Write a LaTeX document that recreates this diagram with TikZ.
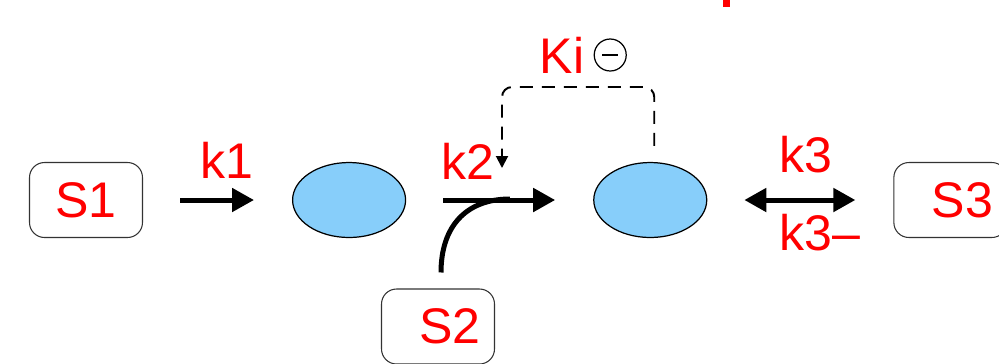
\documentclass[tikz,border=0pt]{standalone}
\usepackage{fontspec}
\setmainfont{Liberation Sans}
\usepackage{tikz}
\usetikzlibrary{shapes.geometric, arrows.meta, positioning, calc}
\definecolor{metblue}{RGB}{135,206,250}
\tikzset{
  species/.style={
    rectangle, rounded corners=0.3cm, draw=black!80, line width=0.6pt,
    minimum width=2.26cm, minimum height=1.5cm,
    text=red, font=\fontsize{28.5}{30}\selectfont
  },
  metab/.style={
    ellipse, draw=black, fill=metblue, line width=0.7pt,
    minimum width=2.26cm, minimum height=1.5cm
  },
  rate/.style={text=red, inner sep=0pt, font=\fontsize{28.5}{30}\selectfont},
  inhsym/.style={
    circle, draw=black, line width=0.7pt, minimum size=0.64cm, inner sep=0pt
  },
  reaction/.style={
    line width=0.1cm, -{Triangle[length=0.44cm,width=0.46cm]},
    shorten <=0.74cm, shorten >=0.76cm
  },
  cosub/.style={line width=0.1cm},
  inhib/.style={
    line width=1.1pt, dash pattern=on 0.26cm off 0.18cm,
    rounded corners=0.2cm, -{Triangle[length=0.24cm,width=0.24cm]}
  },
}

\begin{document}
\begin{tikzpicture}[x=0.02cm, y=-0.02cm]
  \useasboundingbox (0,0) rectangle (999,363);

  \fill[red] (723,0) rectangle (730,7);

  \node (S1) [species] at (86,200)      {S1};
  \node (e1) [metab, right=2.98cm of S1] {};
  \node (e2) [metab, right=3.74cm of e1] {};
  \node (S3) [species, right=3.72cm of e2] {\hspace*{0.48cm}S3};
  \node (S2) [species] at (438,326.5)   {\hspace*{0.48cm}S2};

  \node (k1)  [rate] at (227,160) {k1};
  \node (k2)  [rate] at (468,161) {k2};
  \node (k3)  [rate] at (806,155) {k3};
  \node (k3r) [rate] at (820,233) {k3–};
  \node (Ki)  [rate] at (562,55)  {Ki};
  \node (sgn) [inhsym, right=0.18cm of Ki] {};
  % minus sign inside the circle
  \draw [line width=0.7pt] ([xshift=-0.16cm]sgn.center) -- ([xshift=0.16cm]sgn.center);

  \coordinate (join)  at (510,199);
  \coordinate (kiTop) at (577,87);
  \coordinate (kiEnd) at (502,168);

  \draw [reaction] (S1) -- (e1);
  \draw [reaction] (e1) -- (e2);
  \draw [reaction, {Triangle[length=0.44cm,width=0.46cm]}-{Triangle[length=0.44cm,width=0.46cm]}] (e2) -- (S3);
  \draw [cosub] ([shift={(3,-16)}]S2.north) .. controls +(0,-45) and +(-45,0) .. (join);
  \draw [inhib] ([shift={(4,-16)}]e2.north) |- (kiTop) -| (kiEnd);
\end{tikzpicture}
\end{document}
